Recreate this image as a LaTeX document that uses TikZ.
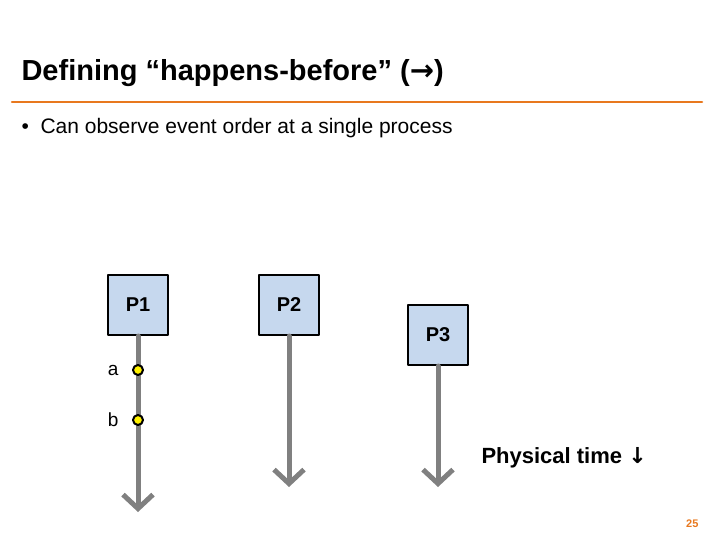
\documentclass[tikz,border=0pt]{standalone}
\usepackage{fontspec}
\setmainfont{Liberation Sans}
\newfontfamily\symfont{DejaVu Sans}
\usetikzlibrary{arrows.meta}
\usetikzlibrary{positioning}
\definecolor{slideorange}{RGB}{232,120,30}
\definecolor{procblue}{RGB}{198,216,238}
\definecolor{timegray}{RGB}{128,128,128}
\tikzset{procbox/.style={draw=black,line width=2pt,fill=procblue,minimum size=60pt,font=\fontsize{20}{24}\selectfont\bfseries},
  timeline/.style={draw=timegray,line width=5pt,-{Straight Barb[length=14pt,width=30pt,line width=5pt]}},
  event/.style={circle,draw=black,fill=yellow,line width=2pt,inner sep=0pt,minimum size=10pt},
  evlabel/.style={font=\fontsize{19}{22}\selectfont}}
\begin{document}
\begin{tikzpicture}[line cap=round,line join=round,x=1pt,y=-1pt]
\useasboundingbox (0,0) rectangle (720,540);
\node[anchor=west,font=\fontsize{29}{34}\selectfont\bfseries] (title) at (18,73) {Defining “happens-before” ({\symfont\bfseries →})};
\draw[slideorange,line width=2.5pt] (12,102) -- (702,102);
\node[anchor=west,font=\fontsize{21}{25}\selectfont] (bullet) at (18,128) {\textbullet\ \ Can observe event order at a single process};
% processes
\node[procbox] (p1) at (138,305) {P1};
\node[procbox] (p2) at (289,305) {P2};
\node[procbox] (p3) at (438,335) {P3};
\coordinate (e1) at (138,512);
\coordinate (e2) at (289,487);
\coordinate (e3) at (438,487);
\draw[timeline] (p1.south) -- (e1);
\draw[timeline] (p2.south) -- (e2);
\draw[timeline] (p3.south) -- (e3);
% events on P1
\node[event] (a) at (138,370) {};
\node[event] (b) at (138,420) {};
\node[evlabel,left=10pt of a] (la) {a};
\node[evlabel,left=10pt of b] (lb) {b};
\node[anchor=west,font=\fontsize{22}{26}\selectfont\bfseries] (phys) at (478,458) {Physical time {\symfont\bfseries ↓}};
\node[anchor=east,text=slideorange,font=\fontsize{11}{13}\selectfont\bfseries] (page) at (702,524) {25};
\end{tikzpicture}
\end{document}
